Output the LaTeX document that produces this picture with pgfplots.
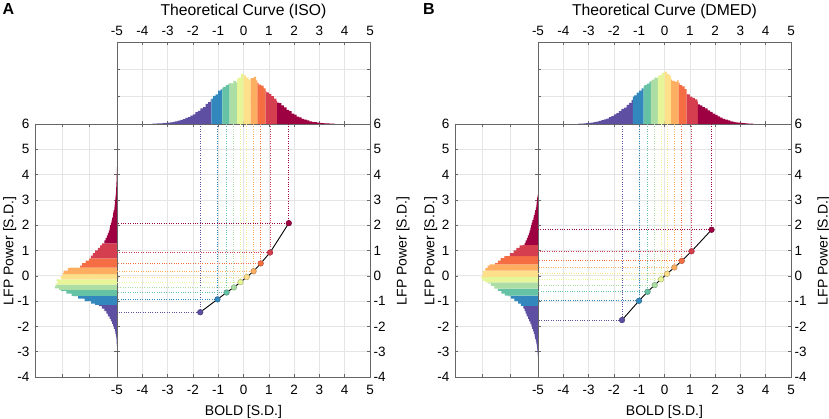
\documentclass[border=0pt]{standalone}
\usepackage{fontspec}
\setmainfont{Liberation Sans}
\usepackage{pgfplots}
\pgfplotsset{compat=1.18}
\definecolor{c1}{HTML}{5E4FA2}
\definecolor{c2}{HTML}{3288BD}
\definecolor{c3}{HTML}{66C2A5}
\definecolor{c4}{HTML}{ABDDA4}
\definecolor{c5}{HTML}{E6F598}
\definecolor{c6}{HTML}{FEE08B}
\definecolor{c7}{HTML}{FDAE61}
\definecolor{c8}{HTML}{F46D43}
\definecolor{c9}{HTML}{D53E4F}
\definecolor{c10}{HTML}{9E0142}
\pgfplotsset{
 base/.style={scale only axis, anchor=south west,
   axis line style={draw=black!60, line width=0.6bp},
   tick style={draw=black!60, line width=0.5bp},
   major tick length=3bp, tick align=inside,
   grid=major, major grid style={draw=black!10, line width=0.6bp},
   tick label style={font=\fontsize{13.5bp}{15bp}\selectfont},
   /pgf/number format/assume math mode=true},
 hb/.style={ybar interval, fill=#1, draw=none},
 vb/.style={xbar interval, fill=#1, draw=none},
 dl/.style={#1, line width=0.9bp, dash pattern=on 0.9bp off 1.5bp},
 pt/.style={only marks, mark=*, mark size=2.8bp, mark options={fill=#1, draw=#1!75!black, line width=0.5bp}},
 mainax/.style={base, width=253bp, height=253bp, xmin=-5, xmax=5, ymin=-4, ymax=6,
   xtick={-5,...,5}, ytick={-4,...,6}, yticklabel pos=right, xticklabel style={yshift=-5bp}},
 topax/.style={base, width=253bp, height=82bp, xmin=-5, xmax=5, ymin=0, ymax=3,
   xtick={-5,...,5}, ytick={0,1,2,3}, yticklabels={,,,,}, xticklabel pos=upper, xticklabel style={yshift=3bp}},
 leftax/.style={base, width=82bp, height=253bp, x dir=reverse, xmin=0, xmax=3, ymin=-4, ymax=6,
   xtick={0,1,2,3}, xticklabels={,,,,}, ytick={-4,...,6}, yticklabel style={xshift=-2bp}},
}
\newcommand{\lab}{\fontsize{14bp}{16bp}\selectfont}
\newcommand{\ttl}{\fontsize{15.7bp}{18bp}\selectfont}
\begin{document}
\begin{tikzpicture}
\useasboundingbox (0,0) rectangle (829bp,419bp);
% ================= PANEL A =================
\begin{axis}[topax, at={(117bp,295bp)}]
\addplot[hb=c1] coordinates {(-3.6,0.01) (-3.5,0.01) (-3.4,0.02) (-3.3,0.02) (-3.2,0.03) (-3.1,0.04) (-3.0,0.05) (-2.9,0.06) (-2.8,0.08) (-2.7,0.10) (-2.6,0.12) (-2.5,0.15) (-2.4,0.18) (-2.3,0.22) (-2.2,0.25) (-2.1,0.31) (-2.0,0.35) (-1.9,0.43) (-1.8,0.48) (-1.7,0.57) (-1.6,0.62) (-1.5,0.74) (-1.4,0.80) (-1.3,0.90) (-1.27,0)};
\addplot[hb=c2] coordinates {(-1.27,0.93) (-1.2,1.03) (-1.1,1.08) (-1.0,1.22) (-0.9,1.27) (-0.84,0)};
\addplot[hb=c3] coordinates {(-0.84,1.33) (-0.8,1.36) (-0.7,1.42) (-0.6,1.47) (-0.55,0)};
\addplot[hb=c4] coordinates {(-0.55,1.50) (-0.5,1.49) (-0.4,1.58) (-0.3,1.52) (-0.25,0)};
\addplot[hb=c5] coordinates {(-0.25,1.66) (-0.2,1.70) (-0.1,1.83) (0.0,0)};
\addplot[hb=c6] coordinates {(0.0,1.78) (0.1,1.70) (0.2,1.62) (0.28,0)};
\addplot[hb=c7] coordinates {(0.28,1.68) (0.4,1.72) (0.5,1.60) (0.55,0)};
\addplot[hb=c8] coordinates {(0.55,1.50) (0.6,1.44) (0.7,1.40) (0.8,1.30) (0.87,0)};
\addplot[hb=c9] coordinates {(0.87,1.20) (0.9,1.16) (1.0,1.10) (1.1,1.02) (1.2,0.93) (1.3,0.85) (1.33,0)};
\addplot[hb=c10] coordinates {(1.33,0.78) (1.4,0.76) (1.5,0.68) (1.6,0.61) (1.7,0.52) (1.8,0.47) (1.9,0.38) (2.0,0.34) (2.1,0.27) (2.2,0.24) (2.3,0.19) (2.4,0.16) (2.5,0.13) (2.6,0.10) (2.7,0.08) (2.8,0.07) (2.9,0.05) (3.0,0.04) (3.1,0.03) (3.2,0.02) (3.3,0.02) (3.4,0.01) (3.5,0.01) (3.6,0)};
\end{axis}
\begin{axis}[leftax, at={(35bp,42bp)}]
\addplot[vb=c1] coordinates {(0.005,-2.8) (0.01,-2.7) (0.015,-2.6) (0.025,-2.5) (0.04,-2.4) (0.06,-2.3) (0.08,-2.2) (0.11,-2.1) (0.14,-2.0) (0.18,-1.9) (0.22,-1.8) (0.27,-1.7) (0.33,-1.6) (0.39,-1.5) (0.46,-1.4) (0.55,-1.3) (0.66,-1.2) (0,-1.15)};
\addplot[vb=c2] coordinates {(0.80,-1.15) (0.95,-1.1) (1.18,-1.0) (1.42,-0.9) (1.60,-0.8) (0,-0.79)};
\addplot[vb=c3] coordinates {(1.66,-0.79) (1.85,-0.7) (2.05,-0.6) (0,-0.56)};
\addplot[vb=c4] coordinates {(2.12,-0.56) (2.27,-0.5) (2.22,-0.4) (0,-0.35)};
\addplot[vb=c5] coordinates {(2.25,-0.35) (2.18,-0.3) (2.22,-0.2) (0,-0.14)};
\addplot[vb=c6] coordinates {(2.02,-0.14) (2.06,-0.1) (1.98,0.0) (0,0.07)};
\addplot[vb=c7] coordinates {(2.00,0.07) (1.95,0.1) (1.80,0.2) (1.72,0.3) (0,0.32)};
\addplot[vb=c8] coordinates {(1.35,0.32) (1.28,0.4) (1.15,0.5) (1.02,0.6) (0,0.69)};
\addplot[vb=c9] coordinates {(0.96,0.69) (0.88,0.8) (0.80,0.9) (0.70,1.0) (0.62,1.1) (0.55,1.2) (0,1.28)};
\addplot[vb=c10] coordinates {(0.46,1.28) (0.42,1.4) (0.37,1.5) (0.33,1.6) (0.30,1.7) (0.27,1.8) (0.25,1.9) (0.22,2.0) (0.20,2.1) (0.18,2.2) (0.15,2.3) (0.14,2.4) (0.12,2.5) (0.10,2.6) (0.09,2.7) (0.08,2.8) (0.07,2.9) (0.06,3.0) (0.05,3.1) (0.04,3.2) (0.035,3.3) (0.03,3.4) (0.025,3.5) (0.02,3.6) (0.015,3.7) (0.01,3.8) (0.01,3.9) (0.008,4.0) (0.005,4.1) (0.004,4.2) (0,4.3)};
\end{axis}
\begin{axis}[mainax, at={(117bp,42bp)}]
\addplot[dl=c1] coordinates {(-1.71,6) (-1.71,-1.44) (-5,-1.44)};
\addplot[dl=c2] coordinates {(-1.03,6) (-1.03,-0.93) (-5,-0.93)};
\addplot[dl=c3] coordinates {(-0.67,6) (-0.67,-0.66) (-5,-0.66)};
\addplot[dl=c4] coordinates {(-0.38,6) (-0.38,-0.46) (-5,-0.46)};
\addplot[dl=c5] coordinates {(-0.12,6) (-0.12,-0.25) (-5,-0.25)};
\addplot[dl=c6] coordinates {(0.13,6) (0.13,-0.05) (-5,-0.05)};
\addplot[dl=c7] coordinates {(0.40,6) (0.40,0.18) (-5,0.18)};
\addplot[dl=c8] coordinates {(0.68,6) (0.68,0.49) (-5,0.49)};
\addplot[dl=c9] coordinates {(1.05,6) (1.05,0.92) (-5,0.92)};
\addplot[dl=c10] coordinates {(1.79,6) (1.79,2.08) (-5,2.08)};
\addplot[black, line width=0.9bp] coordinates {(-1.71,-1.44) (-1.03,-0.93) (-0.67,-0.66) (-0.38,-0.46) (-0.12,-0.25) (0.13,-0.05) (0.40,0.18) (0.68,0.49) (1.05,0.92) (1.79,2.08)};
\addplot[pt=c1] coordinates {(-1.71,-1.44)};
\addplot[pt=c2] coordinates {(-1.03,-0.93)};
\addplot[pt=c3] coordinates {(-0.67,-0.66)};
\addplot[pt=c4] coordinates {(-0.38,-0.46)};
\addplot[pt=c5] coordinates {(-0.12,-0.25)};
\addplot[pt=c6] coordinates {(0.13,-0.05)};
\addplot[pt=c7] coordinates {(0.40,0.18)};
\addplot[pt=c8] coordinates {(0.68,0.49)};
\addplot[pt=c9] coordinates {(1.05,0.92)};
\addplot[pt=c10] coordinates {(1.79,2.08)};
\end{axis}
\node[font=\bfseries\fontsize{16bp}{18bp}\selectfont, anchor=base west, inner sep=0] at (2.5bp,404bp) {A};
\node[font=\ttl, anchor=base, inner sep=0] at (243.5bp,403.5bp) {Theoretical Curve (ISO)};
\node[font=\lab, anchor=base, inner sep=0] at (243.5bp,3.5bp) {BOLD [S.D.]};
\node[font=\lab, anchor=base, rotate=90, inner sep=0] at (13.3bp,168bp) {LFP Power [S.D.]};
\node[font=\lab, anchor=base, rotate=90, inner sep=0] at (406.5bp,168bp) {LFP Power [S.D.]};
% ================= PANEL B =================
\begin{axis}[topax, at={(538bp,295bp)}]
\addplot[hb=c1] coordinates {(-3.4,0.01) (-3.3,0.01) (-3.2,0.02) (-3.1,0.03) (-3.0,0.04) (-2.9,0.05) (-2.8,0.07) (-2.7,0.09) (-2.6,0.11) (-2.5,0.14) (-2.4,0.17) (-2.3,0.20) (-2.2,0.25) (-2.1,0.29) (-2.0,0.35) (-1.9,0.40) (-1.8,0.47) (-1.7,0.55) (-1.6,0.60) (-1.5,0.70) (-1.4,0.77) (-1.3,0.88) (-1.25,0)};
\addplot[hb=c2] coordinates {(-1.25,1.00) (-1.2,1.05) (-1.1,1.15) (-1.0,1.22) (-0.9,1.30) (-0.83,0)};
\addplot[hb=c3] coordinates {(-0.83,1.38) (-0.8,1.42) (-0.7,1.48) (-0.6,1.55) (-0.54,0)};
\addplot[hb=c4] coordinates {(-0.54,1.58) (-0.5,1.62) (-0.4,1.70) (-0.3,1.68) (-0.26,0)};
\addplot[hb=c5] coordinates {(-0.26,1.75) (-0.2,1.80) (-0.1,1.88) (0.0,0)};
\addplot[hb=c6] coordinates {(0.0,1.92) (0.1,1.82) (0.2,1.76) (0.26,0)};
\addplot[hb=c7] coordinates {(0.26,1.62) (0.3,1.58) (0.4,1.55) (0.5,1.60) (0.56,0)};
\addplot[hb=c8] coordinates {(0.56,1.50) (0.6,1.42) (0.7,1.38) (0.8,1.28) (0.87,0)};
\addplot[hb=c9] coordinates {(0.87,1.10) (0.9,1.08) (1.0,1.00) (1.1,0.96) (1.2,0.90) (1.3,0.82) (1.32,0)};
\addplot[hb=c10] coordinates {(1.32,0.72) (1.4,0.68) (1.5,0.62) (1.6,0.57) (1.7,0.50) (1.8,0.44) (1.9,0.38) (2.0,0.33) (2.1,0.28) (2.2,0.23) (2.3,0.19) (2.4,0.16) (2.5,0.13) (2.6,0.10) (2.7,0.08) (2.8,0.06) (2.9,0.05) (3.0,0.04) (3.1,0.03) (3.2,0.02) (3.3,0.015) (3.4,0.01) (3.5,0)};
\end{axis}
\begin{axis}[leftax, at={(455bp,42bp)}, width=83bp]
\addplot[vb=c1] coordinates {(0.005,-3.2) (0.01,-3.1) (0.02,-3.0) (0.03,-2.9) (0.04,-2.8) (0.06,-2.7) (0.08,-2.6) (0.10,-2.5) (0.12,-2.4) (0.15,-2.3) (0.18,-2.2) (0.21,-2.1) (0.24,-2.0) (0.28,-1.9) (0.32,-1.8) (0.36,-1.7) (0.41,-1.6) (0.45,-1.5) (0.48,-1.4) (0.53,-1.3) (0.55,-1.2) (0,-1.19)};
\addplot[vb=c2] coordinates {(0.62,-1.19) (0.72,-1.1) (0.85,-1.0) (0.98,-0.9) (1.08,-0.8) (0,-0.78)};
\addplot[vb=c3] coordinates {(1.20,-0.78) (1.32,-0.7) (1.45,-0.6) (0,-0.51)};
\addplot[vb=c4] coordinates {(1.58,-0.51) (1.70,-0.4) (1.82,-0.3) (0,-0.26)};
\addplot[vb=c5] coordinates {(1.90,-0.26) (2.00,-0.2) (2.06,-0.1) (0,-0.04)};
\addplot[vb=c6] coordinates {(2.04,-0.04) (2.00,0.0) (1.98,0.1) (0,0.2)};
\addplot[vb=c7] coordinates {(1.90,0.2) (1.82,0.3) (1.75,0.4) (0,0.45)};
\addplot[vb=c8] coordinates {(1.55,0.45) (1.45,0.5) (1.35,0.6) (1.22,0.7) (0,0.78)};
\addplot[vb=c9] coordinates {(1.02,0.78) (0.88,0.9) (0.78,1.0) (0.66,1.1) (0.55,1.2) (0,1.22)};
\addplot[vb=c10] coordinates {(0.48,1.22) (0.45,1.3) (0.40,1.4) (0.37,1.5) (0.33,1.6) (0.30,1.7) (0.28,1.8) (0.25,1.9) (0.23,2.0) (0.20,2.1) (0.17,2.2) (0.15,2.3) (0.12,2.4) (0.10,2.5) (0.08,2.6) (0.06,2.7) (0.05,2.8) (0.04,2.9) (0.03,3.0) (0.015,3.1) (0,3.2)};
\end{axis}
\begin{axis}[mainax, at={(538bp,42bp)}]
\addplot[dl=c1] coordinates {(-1.68,6) (-1.68,-1.75) (-5,-1.75)};
\addplot[dl=c2] coordinates {(-1.01,6) (-1.01,-0.99) (-5,-0.99)};
\addplot[dl=c3] coordinates {(-0.67,6) (-0.67,-0.63) (-5,-0.63)};
\addplot[dl=c4] coordinates {(-0.39,6) (-0.39,-0.37) (-5,-0.37)};
\addplot[dl=c5] coordinates {(-0.14,6) (-0.14,-0.14) (-5,-0.14)};
\addplot[dl=c6] coordinates {(0.10,6) (0.10,0.08) (-5,0.08)};
\addplot[dl=c7] coordinates {(0.39,6) (0.39,0.33) (-5,0.33)};
\addplot[dl=c8] coordinates {(0.68,6) (0.68,0.59) (-5,0.59)};
\addplot[dl=c9] coordinates {(1.07,6) (1.07,0.97) (-5,0.97)};
\addplot[dl=c10] coordinates {(1.86,6) (1.86,1.82) (-5,1.82)};
\addplot[black, line width=0.9bp] coordinates {(-1.68,-1.75) (-1.01,-0.99) (-0.67,-0.63) (-0.39,-0.37) (-0.14,-0.14) (0.10,0.08) (0.39,0.33) (0.68,0.59) (1.07,0.97) (1.86,1.82)};
\addplot[pt=c1] coordinates {(-1.68,-1.75)};
\addplot[pt=c2] coordinates {(-1.01,-0.99)};
\addplot[pt=c3] coordinates {(-0.67,-0.63)};
\addplot[pt=c4] coordinates {(-0.39,-0.37)};
\addplot[pt=c5] coordinates {(-0.14,-0.14)};
\addplot[pt=c6] coordinates {(0.10,0.08)};
\addplot[pt=c7] coordinates {(0.39,0.33)};
\addplot[pt=c8] coordinates {(0.68,0.59)};
\addplot[pt=c9] coordinates {(1.07,0.97)};
\addplot[pt=c10] coordinates {(1.86,1.82)};
\end{axis}
\node[font=\bfseries\fontsize{16bp}{18bp}\selectfont, anchor=base west, inner sep=0] at (423bp,404bp) {B};
\node[font=\ttl, anchor=base, inner sep=0] at (664.5bp,403.5bp) {Theoretical Curve (DMED)};
\node[font=\lab, anchor=base, inner sep=0] at (664.5bp,3.5bp) {BOLD [S.D.]};
\node[font=\lab, anchor=base, rotate=90, inner sep=0] at (434.3bp,168bp) {LFP Power [S.D.]};
\node[font=\lab, anchor=base, rotate=90, inner sep=0] at (827.5bp,168bp) {LFP Power [S.D.]};
\end{tikzpicture}
\end{document}
